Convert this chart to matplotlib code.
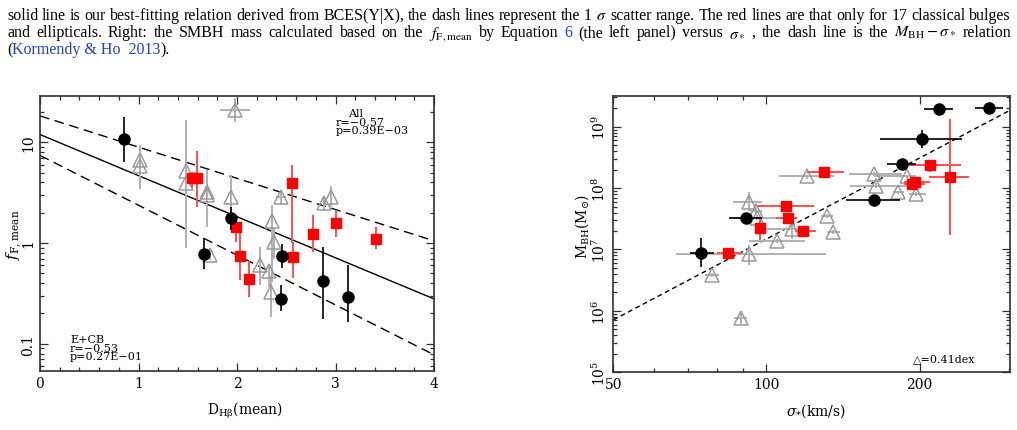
import numpy as np
import matplotlib
matplotlib.use('Agg')
import matplotlib.pyplot as plt

plt.rcParams['mathtext.fontset'] = 'dejavuserif'
plt.rcParams['font.family'] = ['DejaVu Serif', 'DejaVu Sans']

W, H = 1017, 431

# ---------------- left panel data: f_F,mean vs D_Hbeta(mean) ----------------
# E / classical bulges (black circles)
D_blk = [0.85, 1.66, 1.94, 2.46, 2.45, 2.87, 3.13]
f_blk = [10.8, 0.77, 1.76, 0.74, 0.28, 0.42, 0.29]
f_blk_lo = [6.4, 0.55, 1.35, 0.57, 0.21, 0.178, 0.165]
f_blk_hi = [18.0, 1.13, 2.28, 0.98, 0.38, 0.92, 0.60]

# red squares
D_red = [1.54, 1.59, 1.99, 2.03, 2.12, 2.56, 2.57, 2.77, 3.00, 3.41]
f_red = [4.4, 4.4, 1.43, 0.75, 0.44, 3.95, 0.72, 1.22, 1.57, 1.10]
f_red_lo = [3.5, 2.3, 1.03, 0.43, 0.29, 1.0, 0.45, 0.82, 1.16, 0.87]
f_red_hi = [5.1, 8.2, 1.83, 1.35, 0.66, 6.0, 1.03, 1.9, 2.13, 1.45]
D_red_err = [0, 0, 0, 0, 0, 0, 0.05, 0, 0, 0]

# pseudo bulges (gray open triangles)
D_tri = [1.98, 1.02, 1.02, 1.48, 1.48, 1.70, 1.70, 1.94, 1.73, 2.23, 2.32,
         2.36, 2.38, 2.35, 2.45, 2.88, 2.95]
f_tri = [21.0, 6.7, 5.75, 5.2, 3.9, 3.24, 3.0, 2.85, 0.76, 0.60, 0.53,
         1.66, 1.03, 0.33, 2.89, 2.48, 2.89]
f_tri_lo = [16.0, 3.4, 3.4, 0.9, 3.5, 1.45, 2.7, 1.9, 0.68, 0.38, 0.37,
            0.41, 0.70, 0.185, 2.4, 2.1, 2.3]
f_tri_hi = [27.5, 9.4, 9.4, 16.7, 4.5, 5.3, 3.3, 4.75, 0.85, 0.92, 0.62,
            2.4, 1.4, 0.48, 3.3, 2.9, 3.65]
D_tri_err = [0.15, 0, 0, 0, 0, 0, 0, 0, 0, 0, 0, 0, 0, 0, 0.05, 0, 0]

# BCES fit (solid) and 1-sigma scatter (dashed): log f = a + b * D
fit_a = [1.077, 1.262, 0.870]
fit_b = [-0.408, -0.310, -0.495]
fit_style = ['-', '--', '--']

left_yticks = [0.1, 1, 10]
left_yticklabels = ['0.1', '1', '10']

# ---------------- right panel data: M_BH vs sigma_* ----------------
s_blk = [74.4, 91.2, 218, 274, 202, 185, 163]
s_blk_lo = [70.6, 84.5, 204, 257, 167, 172.5, 143]
s_blk_hi = [78.9, 98.1, 233, 291, 242, 197, 183]
m_blk = [6.95, 7.52, 9.29, 9.30, 8.80, 8.39, 7.80]
m_blk_lo = [6.72, 7.47, 9.25, 9.26, 8.65, 8.36, 7.77]
m_blk_hi = [7.18, 7.57, 9.33, 9.34, 8.95, 8.42, 7.83]

s_red = [84.2, 97.2, 109.3, 110.4, 118.2, 129.8, 209.3, 195.6, 193.3, 229]
s_red_lo = [80, 95, 95.8, 104.6, 114, 120.2, 183.6, 186, 186, 209]
s_red_hi = [89.5, 99.5, 124.2, 114.6, 125, 142.3, 241.6, 210, 205, 250]
m_red = [6.95, 7.35, 7.71, 7.52, 7.30, 8.26, 8.37, 8.10, 8.06, 8.18]
m_red_lo = [6.90, 7.15, 7.67, 7.48, 7.26, 8.22, 8.27, 8.06, 8.02, 7.24]
m_red_hi = [7.02, 7.53, 7.75, 7.56, 7.34, 8.29, 8.45, 8.14, 8.10, 9.13]

s_tri = [78.1, 89.2, 92.2, 92.2, 95.5, 96.0, 105, 112.1, 120.2, 131.4,
         135.4, 162.4, 164.3, 181.3, 189, 197]
s_tri_lo = [75.6, 86.5, 66.4, 86.1, 93, 85.9, 92.5, 98, 106, 128,
            131.5, 145, 146, 177, 163, 191]
s_tri_hi = [80.8, 91.5, 131, 98.1, 98, 106.4, 119, 121, 136, 135,
            139.5, 185, 193, 186, 197, 206]
m_tri = [6.59, 5.89, 6.92, 7.78, 7.62, 7.52, 7.14, 7.33, 8.19, 7.55,
         7.29, 8.23, 8.04, 7.93, 8.19, 7.90]
m_tri_lo = [6.55, 5.78, 6.75, 7.63, 7.58, 7.48, 7.11, 7.17, 8.15, 7.52,
            7.26, 8.20, 8.00, 7.90, 8.15, 7.87]
m_tri_hi = [6.62, 6.00, 7.07, 7.93, 7.66, 7.56, 7.17, 7.53, 8.22, 7.58,
            7.32, 8.26, 8.08, 7.96, 8.22, 7.93]

# Kormendy & Ho (2013): log M = 8.49 + 4.38 log(sigma/200)
kh_a, kh_b = 8.49, 4.38

right_xticks = [50, 100, 200]
right_xticklabels = ['50', '100', '200']
right_xminor = [60, 70, 80, 90, 300]

GRAY = '#9a9a9a'
GRAY_ERR = '#b0b0b0'
RED = '#ff0000'
RED_ERR = '#ff5050'
FRAME = '#303030'

fig = plt.figure(figsize=(W / 100, H / 100), dpi=100)
ax1 = fig.add_axes([40 / W, 1 - 371.7 / H, 394 / W, 275 / H])
ax2 = fig.add_axes([613.3 / W, 1 - 373.3 / H, 396.7 / W, 276 / H])


def style(ax):
    for s in ax.spines.values():
        s.set_color(FRAME)
        s.set_linewidth(1.2)
    ax.tick_params(which='both', direction='in', top=True, right=True,
                   color=FRAME, width=0.9, labelsize=10)
    ax.tick_params(which='major', length=6)
    ax.tick_params(which='minor', length=3)


def asym(v, lo, hi):
    v, lo, hi = map(np.asarray, (v, lo, hi))
    return [v - lo, hi - v]


# ---- left panel ----
ax1.set_yscale('log')
D_line = np.linspace(0, 4, 50)
for a, b, ls in zip(fit_a, fit_b, fit_style):
    ax1.plot(D_line, 10 ** (a + b * D_line), color='black', lw=1.0, ls=ls,
             dashes=(7, 4) if ls == '--' else (None, None), zorder=2)

ax1.errorbar(D_tri, f_tri, yerr=asym(f_tri, f_tri_lo, f_tri_hi), xerr=D_tri_err,
             fmt='^', ms=10, mfc='none', mec=GRAY, mew=1.1, ecolor=GRAY_ERR,
             elinewidth=1.4, capsize=0, zorder=3)
ax1.errorbar(D_red, f_red, yerr=asym(f_red, f_red_lo, f_red_hi), xerr=D_red_err,
             fmt='s', ms=7, mfc=RED, mec=RED, ecolor=RED_ERR, elinewidth=1.4,
             capsize=0, zorder=4)
ax1.errorbar(D_blk, f_blk, yerr=asym(f_blk, f_blk_lo, f_blk_hi), fmt='o', ms=8,
             mfc='black', mec='black', ecolor='black', elinewidth=1.2,
             capsize=0, zorder=5)

ax1.set_xlim(0, 4)
ax1.set_ylim(0.054, 29)
style(ax1)
ax1.set_xticks([0, 1, 2, 3, 4])
ax1.set_xticks(np.arange(0, 4.01, 0.2), minor=True)
ax1.set_yticks(left_yticks, left_yticklabels)
ax1.yaxis.set_minor_formatter(plt.NullFormatter())
ax1.tick_params(axis='y', labelrotation=90)
for t in ax1.get_yticklabels():
    t.set_va('center')
ax1.set_xlabel(r'D$_{\rm H\beta}$(mean)', fontsize=10)
ax1.xaxis.set_label_coords(0.52, -0.105)
ax1.set_ylabel(r'$f_{\rm F,mean}$', fontsize=11)
ax1.yaxis.set_label_coords(-0.04, 0.5)

kw = dict(transform=ax1.transAxes, fontsize=8, va='baseline', ha='left')
ax1.text(0.782, 0.927, 'All', **kw)
ax1.text(0.751, 0.895, 'r=\u22120.57', **kw)
ax1.text(0.751, 0.865, 'p=0.39E\u221203', **kw)
ax1.text(0.076, 0.103, 'E+CB', **kw)
ax1.text(0.076, 0.073, 'r=\u22120.53', **kw)
ax1.text(0.076, 0.0425, 'p=0.27E\u221201', **kw)

# ---- right panel ----
ax2.set_xscale('log')
ax2.set_yscale('log')
s_line = np.geomspace(50, 301, 50)
ax2.plot(s_line, 10 ** (kh_a + kh_b * np.log10(s_line / 200)), color='black',
         lw=1.0, ls='--', dashes=(3.5, 2.5), zorder=2)

M_tri = 10 ** np.array(m_tri)
ax2.errorbar(s_tri, M_tri, xerr=asym(s_tri, s_tri_lo, s_tri_hi),
             yerr=asym(M_tri, 10 ** np.array(m_tri_lo), 10 ** np.array(m_tri_hi)),
             fmt='^', ms=10, mfc='none', mec=GRAY, mew=1.1, ecolor=GRAY_ERR,
             elinewidth=1.4, capsize=0, zorder=3)
M_red = 10 ** np.array(m_red)
ax2.errorbar(s_red, M_red, xerr=asym(s_red, s_red_lo, s_red_hi),
             yerr=asym(M_red, 10 ** np.array(m_red_lo), 10 ** np.array(m_red_hi)),
             fmt='s', ms=7, mfc=RED, mec=RED, ecolor=RED_ERR, elinewidth=1.4,
             capsize=0, zorder=4)
M_blk = 10 ** np.array(m_blk)
ax2.errorbar(s_blk, M_blk, xerr=asym(s_blk, s_blk_lo, s_blk_hi),
             yerr=asym(M_blk, 10 ** np.array(m_blk_lo), 10 ** np.array(m_blk_hi)),
             fmt='o', ms=8, mfc='black', mec='black', ecolor='black',
             elinewidth=1.2, capsize=0, zorder=5)

ax2.set_xlim(50, 301)
ax2.set_ylim(1e5, 10 ** 9.495)
style(ax2)
ax2.set_xticks(right_xticks, right_xticklabels)
ax2.set_xticks(right_xminor, minor=True)
ax2.xaxis.set_minor_formatter(plt.NullFormatter())
ax2.set_yticks([1e5, 1e6, 1e7, 1e8, 1e9],
               [r'$10^{5}$', r'$10^{6}$', r'$10^{7}$', r'$10^{8}$', r'$10^{9}$'])
ax2.yaxis.set_minor_formatter(plt.NullFormatter())
ax2.tick_params(axis='y', labelrotation=90)
for t in ax2.get_yticklabels():
    t.set_va('center')
ax2.set_xlabel(r'$\sigma_{*}$(km/s)', fontsize=10)
ax2.xaxis.set_label_coords(0.51, -0.105)
ax2.set_ylabel(r'M$_{\rm BH}$(M$_{\odot}$)', fontsize=10)
ax2.yaxis.set_label_coords(-0.055, 0.53)
ax2.text(0.755, 0.041, '\u25b3=0.41dex', transform=ax2.transAxes, fontsize=8,
         va='baseline', ha='left')

# ---- caption above the panels (justified lines) ----
cap_fs = 11.5
line1 = ('solid line is our best-fitting relation derived from BCES(Y|X), the dash '
         'lines represent the 1 $\\sigma$ scatter range. The red lines are that only '
         'for 17 classical bulges').split(' ')
line2 = ('and ellipticals. Right: the SMBH mass calculated based on the '
         '$f_\\mathrm{F,mean}$ by Equation 6 (the left panel) versus $\\sigma_*$ , '
         'the dash line is the $M_\\mathrm{BH}-\\sigma_*$ relation').split(' ')
blue_words = {'6'}
BLUE = '#1f3fd6'


def put_line(words, baseline, justify=True):
    ts = []
    for w in words:
        c = BLUE if w in blue_words else 'black'
        ts.append(fig.text(0, 1 - baseline / H, w, color=c, fontsize=cap_fs,
                           family='Liberation Serif', math_fontfamily='stix',
                           va='baseline', ha='left'))
    fig.canvas.draw()
    r = fig.canvas.get_renderer()
    ws = [t.get_window_extent(r).width for t in ts]
    x0, x1 = 7, 1011
    gap = (x1 - x0 - sum(ws)) / (len(ws) - 1) if justify else cap_fs * 0.35
    x = x0
    for t, w in zip(ts, ws):
        t.set_x(x / W)
        x += w + gap


put_line(line1, 19.5)
put_line(line2, 37)

t_a = fig.text(7 / W, 1 - 54.5 / H, '(', fontsize=cap_fs, family='Liberation Serif',
               va='baseline')
fig.canvas.draw()
r = fig.canvas.get_renderer()
xa = 7 + t_a.get_window_extent(r).width
t_b = fig.text(xa / W, 1 - 54.5 / H, 'Kormendy & Ho  2013', color=BLUE,
               fontsize=cap_fs, family='Liberation Serif', va='baseline')
fig.canvas.draw()
xb = xa + t_b.get_window_extent(r).width
fig.text(xb / W, 1 - 54.5 / H, ').', fontsize=cap_fs, family='Liberation Serif',
         va='baseline')

fig.savefig('out.png', dpi=100)
